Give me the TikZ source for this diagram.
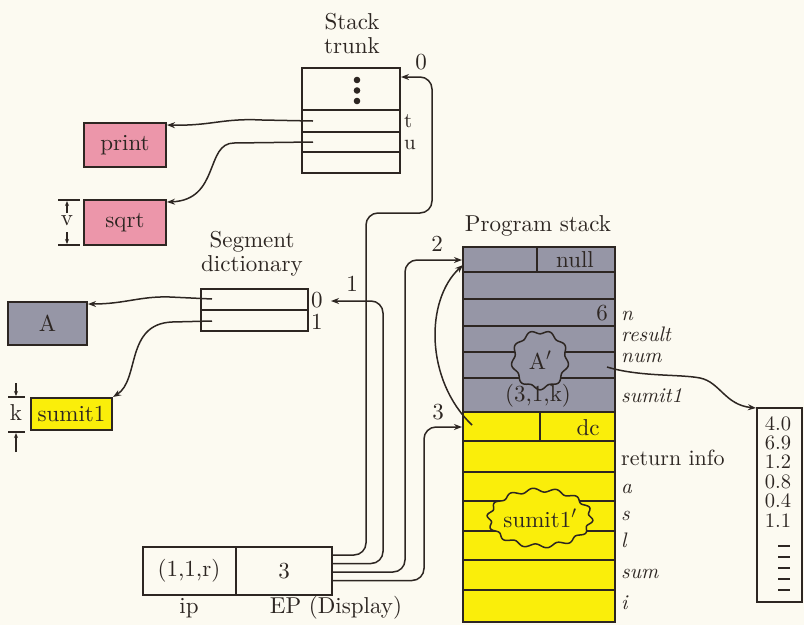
\documentclass[tikz,border=0pt]{standalone}
\usepackage{fontspec}
\setmainfont{lmroman10}[Extension=.otf, UprightFont=*-regular, ItalicFont=*-italic, BoldFont=*-bold]
\usetikzlibrary{arrows.meta}
\definecolor{paper}{RGB}{252,250,241}
\definecolor{ink}{RGB}{45,38,34}
\definecolor{pinkseg}{RGB}{236,150,170}
\definecolor{grayseg}{RGB}{150,150,166}
\definecolor{yellowseg}{RGB}{250,238,10}
\tikzset{
  txt/.style={font=\fontsize{23}{27}\selectfont, text=ink, inner sep=0pt},
  sidetxt/.style={font=\fontsize{21}{24}\selectfont, text=ink, inner sep=0pt},
  lab/.style={font=\fontsize{21}{24}\selectfont\itshape, text=ink, inner sep=0pt, anchor=base west},
  rlab/.style={font=\fontsize{22}{26}\selectfont, text=ink, inner sep=0pt, anchor=base west},
  numtxt/.style={font=\fontsize{20.5}{22}\selectfont, text=ink, inner sep=0pt, anchor=base},
  box/.style={draw=ink, line width=1.9pt, inner sep=0pt},
  rowline/.style={draw=ink, line width=1.6pt},
  wire/.style={draw=ink, line width=1.5pt},
  ptr/.style={wire, -{Stealth[length=8pt,width=6pt]}},
  dimline/.style={draw=ink, line width=1.1pt},
  dimarrow/.style={draw=ink, line width=1.1pt, -{Stealth[length=5pt,width=4pt]}},
  blob/.style={draw=ink, line width=1.5pt},
}
\begin{document}
\begin{tikzpicture}[x=1pt,y=-1pt]
\useasboundingbox (0,0) rectangle (804,625);
\fill[paper] (0,0) rectangle (804,625);

% ---------- code segments on the left ----------
\node[box, txt, fill=pinkseg, minimum width=82, minimum height=44] (print) at (125,145) {print};
\node[box, txt, fill=pinkseg, minimum width=82, minimum height=45] (sqrt) at (125,222.5) {sqrt};
\node[box, txt, fill=grayseg, minimum width=79, minimum height=43] (A) at (47.5,323.5) {A};
\node[box, txt, fill=yellowseg, minimum width=81, minimum height=32] (sumit) at (71.5,414) {sumit1};

% size marker v
\draw[dimline] (58,200) -- (80,200);
\draw[dimline] (58,245) -- (80,245);
\draw[dimarrow] (67,213) -- (67,201);
\draw[dimarrow] (67,232) -- (67,244);
\node[txt] (vlab) at (67,221) {v};

% size marker k
\draw[dimline] (8,397) -- (25,397);
\draw[dimline] (8,432) -- (25,432);
\draw[dimarrow] (16,383) -- (16,396);
\draw[dimarrow] (16,452) -- (16,433);
\node[txt] (klab) at (16,413) {k};

% ---------- stack trunk ----------
\node[txt] (trunkname) at (352,36) {\begin{tabular}{@{}c@{}}Stack\\[-3pt]trunk\end{tabular}};
\draw[box] (302,68) rectangle (400,173);
\foreach \y in {110,132,152} \draw[rowline] (302,\y) -- (400,\y);
\foreach \y in {80,90.5,101} \fill[ink] (357,\y) circle (3.3);
\node[sidetxt, anchor=base west] (tlab) at (404,127) {t};
\node[sidetxt, anchor=base west] (ulab) at (404,149) {u};
\coordinate (trT) at (313,121);
\coordinate (trU) at (313,142);
\coordinate (trTop) at (401,77);

\draw[ptr] (trT) -- (262,120) .. controls (222,118) and (212,126) .. (print.east |- 0,125);
\draw[ptr] (trU) -- (234,143) .. controls (205,143) and (220,200) .. (167,202);

% ---------- segment dictionary ----------
\node[txt, align=center] (segname) at (252,254) {Segment\\[-3pt]dictionary};
\draw[box] (201,289) rectangle (308,331);
\draw[rowline] (201,310) -- (308,310);
\node[txt, anchor=west] (d0lab) at (311,300) {0};
\node[txt, anchor=west] (d1lab) at (311,322) {1};
\coordinate (sd0) at (212,299);
\coordinate (sd1) at (212,321);
\coordinate (sdIn) at (331,301);

\draw[ptr] (sd0) -- (170,297) .. controls (140,296) and (125,304) .. (88,304);
\draw[ptr] (sd1) -- (172,322) .. controls (125,324) and (140,380) .. (113,397);

% ---------- instruction pointer and display ----------
\draw[box] (143,547) rectangle (332,595);
\draw[rowline] (236,547) -- (236,595);
\node[txt] (iptxt) at (189,571) {(1,1,r)};
\node[txt] (eptxt) at (284,571) {3};
\node[txt] (iplab) at (189,608) {ip};
\node[txt] (eplab) at (336,608) {EP (Display)};
\coordinate (ep0) at (332,555);
\coordinate (ep1) at (332,563.5);
\coordinate (ep2) at (332,572);
\coordinate (ep3) at (332,580.5);

% ---------- program stack ----------
\node[txt] (psname) at (538,226) {Program stack};
\fill[grayseg] (463,247) rectangle (615,412);
\fill[yellowseg] (463,412) rectangle (615,622);
\foreach \y in {272,299,326,352,378} \draw[rowline] (463,\y) -- (615,\y);
\foreach \y in {441,472,501,531,560,590} \draw[rowline] (463,\y) -- (615,\y);
\draw[rowline] (537,247) -- (537,272);
\draw[rowline] (540,412) -- (540,441);
\draw[box] (463,247) rectangle (615,622);
\draw[draw=ink, line width=2.8pt] (463,412) -- (615,412);

% wavy outlines of the two activation records
\filldraw[blob, fill=grayseg] plot[domain=0:360, samples=180, smooth cycle]
  ({540+(27+1.8*sin(9*\x))*cos(\x)}, {360+(28+1.8*sin(9*\x))*sin(\x)});
\node[txt] (aprime) at (540,360) {A$'$};
\filldraw[blob, fill=yellowseg] plot[domain=0:360, samples=240, smooth cycle]
  ({540+(51+2*sin(14*\x+20))*cos(\x)}, {518+(28+2*sin(14*\x+20))*sin(\x)});
\node[txt] (sprime) at (540,518) {sumit1$'$};

\node[txt] (nulltxt) at (575,260) {null};
\node[txt] (sixtxt) at (602,313) {6};
\node[txt] (keytxt) at (538,396) {(3,1,k)};
\node[txt] (dctxt) at (588,428) {dc};

\node[lab] (ln) at (621,320) {n};
\node[lab] (lres) at (621,341) {result};
\node[lab] (lnum) at (621,362) {num};
\node[lab] (lsum1) at (621,402) {sumit1};
\node[rlab] (lret) at (621,465) {return info};
\node[lab] (la) at (621,493) {a};
\node[lab] (ls) at (621,520) {s};
\node[lab] (ll) at (621,547) {l};
\node[lab] (lsum) at (621,578) {sum};
\node[lab] (li) at (621,609) {i};

\coordinate (ps2) at (462,260);
\coordinate (ps3) at (462,427);
\coordinate (psTop) at (463,265);
\coordinate (dcIn) at (472,425);
\coordinate (numIn) at (607,367);

% ---------- display links ----------
\draw[ptr, rounded corners=12pt] (ep0) -| (366,213) -| (432,77) -- (trTop);
\draw[ptr, rounded corners=12pt] (ep1) -| (383,301) -- (sdIn);
\draw[ptr, rounded corners=12pt] (ep2) -| (405,260) -- (ps2);
\draw[ptr, rounded corners=12pt] (ep3) -| (424,427) -- (ps3);
\node[txt] (l0) at (421,62) {0};
\node[txt] (l1) at (352,284) {1};
\node[txt] (l2) at (437,244) {2};
\node[txt] (l3) at (438,412) {3};

% dynamic chain
\draw[ptr] (dcIn) .. controls (425,380) and (425,300) .. (psTop);

% ---------- array ----------
\draw[box] (757,408) rectangle (802,602);
\coordinate (arrIn) at (756,408);
\draw[ptr] (numIn) .. controls (640,377) and (680,374) .. (700,378)
  .. controls (720,382) and (725,405) .. (arrIn);
\foreach \v [count=\i from 0] in {4.0,6.9,1.2,0.8,0.4,1.1}
  \node[numtxt] (v\i) at (778,430+19.4*\i) {\v};
\foreach \y in {546,557,568,579,590} \draw[dimline] (778,\y) -- (790,\y);
\end{tikzpicture}
\end{document}
